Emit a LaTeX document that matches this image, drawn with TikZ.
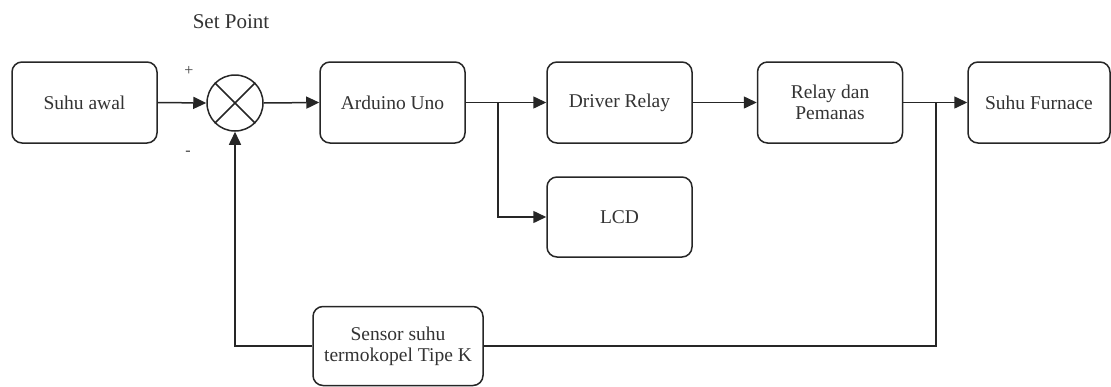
\documentclass[tikz,border=0pt]{standalone}
\usepackage{fontspec}
\setmainfont{Liberation Serif}
\usetikzlibrary{arrows.meta,calc}
\begin{document}
\begin{tikzpicture}[x=1pt,y=-1pt,
  blk/.style={draw=black!85,line width=1.5pt,rounded corners=10pt,minimum width=145pt,minimum height=81pt,inner sep=0pt,align=center,font=\fontsize{19.5}{21}\selectfont,text=black!80},
  conn/.style={draw=black!85,line width=1.5pt},
  arr/.style={conn,-{Triangle[length=13pt,width=12pt]}},
  sign/.style={font=\fontsize{16}{17}\selectfont,text=black!75,inner sep=0pt}]
\useasboundingbox (0,0) rectangle (1111,386);
\node[blk] (awal) at (84.5,102.5) {Suhu awal};
\node[draw=black!85,line width=1.5pt,circle,minimum size=56pt,inner sep=0pt] (sum) at (235,103) {};
\draw[conn] (sum.north west) -- (sum.south east);
\draw[conn] (sum.north east) -- (sum.south west);
\node[blk] (ard) at (392.5,102.5) {Arduino Uno};
\node[blk] (drv) at (619.5,102.5) {Driver Relay};
\node[blk,minimum height=80pt] (lcd) at (619.5,217) {LCD};
\node[blk] (rel) at (830,102.5) {Relay dan\\Pemanas};
\node[blk,minimum width=142pt] (fur) at (1039,102.5) {Suhu Furnace};
\node[blk,minimum width=170pt,minimum height=79pt] (sen) at (398,346) {Sensor suhu\\termokopel Tipe K};
\node[font=\fontsize{21}{23}\selectfont,text=black!80] (sp) at (231,22) {Set Point};
\node[sign] (plus) at (189,71) {+};
\node[sign] (minus) at (188,153) {-};
\coordinate (b1) at (498,102.5);
\coordinate (b2) at (936,102.5);
\draw[arr] (awal.east) -- (sum.west);
\draw[arr] (sum.east) -- (ard.west);
\draw[arr] (ard.east) -- (drv.west);
\draw[arr] (b1) |- (lcd.west);
\draw[arr] (drv.east) -- (rel.west);
\draw[arr] (rel.east) -- (fur.west);
\draw[conn] (b2) |- (sen.east);
\draw[arr] (sen.west) -| (sum.south);
\end{tikzpicture}
\end{document}
